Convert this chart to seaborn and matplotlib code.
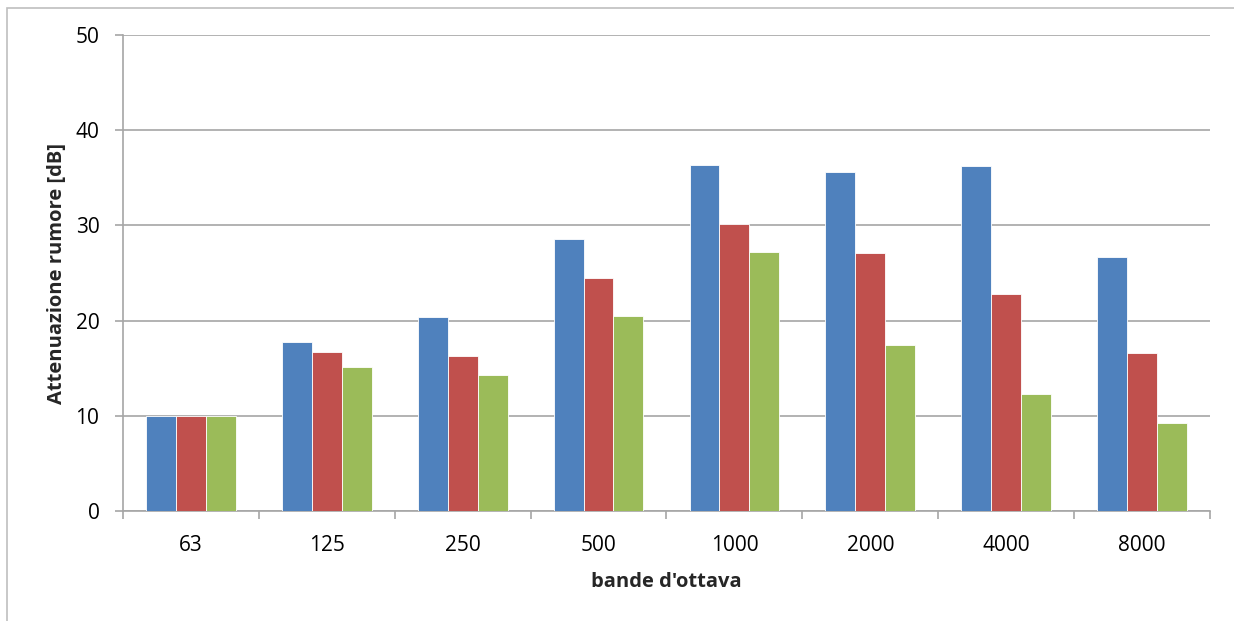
import matplotlib
matplotlib.use("Agg")
import matplotlib.pyplot as plt
from matplotlib.patches import Rectangle
from matplotlib.ticker import FixedLocator
import numpy as np
import pandas as pd
import seaborn as sns

# Octave bands (Hz) and noise attenuation per series (dB)
bands = ["63", "125", "250", "500", "1000", "2000", "4000", "8000"]
serie_1 = [10.0, 17.8, 20.4, 28.6, 36.4, 35.6, 36.2, 26.7]
serie_2 = [10.0, 16.7, 16.3, 24.5, 30.2, 27.1, 22.8, 16.6]
serie_3 = [10.0, 15.1, 14.3, 20.5, 27.2, 17.4, 12.3, 9.3]
series_names = ["Serie 1", "Serie 2", "Serie 3"]
colors = ["#4F81BD", "#C0504D", "#9BBB59"]
y_ticks = [0, 10, 20, 30, 40, 50]

df = pd.DataFrame({
    "banda": bands * 3,
    "attenuazione": serie_1 + serie_2 + serie_3,
    "serie": [series_names[0]] * 8 + [series_names[1]] * 8 + [series_names[2]] * 8,
})

sns.set_theme(style="white")
plt.rcParams["font.family"] = ["Open Sans", "DejaVu Sans"]

fig = plt.figure(figsize=(12.34, 6.21), dpi=100)
ax = fig.add_axes([0.0997, 0.177, 0.8808, 0.7666])

sns.barplot(data=df, x="banda", y="attenuazione", hue="serie", order=bands,
            hue_order=series_names, palette=colors, width=0.66, ax=ax,
            edgecolor="white", linewidth=0.6, saturation=1, legend=False,
            errorbar=None, zorder=3)

ax.set_ylim(0, 50)
ax.set_xlim(-0.5, len(bands) - 0.5)
ax.set_yticks(y_ticks)
ax.yaxis.grid(True, color="#A6A6A6", linewidth=1.2, zorder=0)
ax.set_axisbelow(True)

grey = "#A6A6A6"
for side in ["top", "right"]:
    ax.spines[side].set_visible(False)
for side in ["left", "bottom"]:
    ax.spines[side].set_color(grey)
    ax.spines[side].set_linewidth(1.2)

# Category separators as outward ticks on the x axis
ax.xaxis.set_minor_locator(FixedLocator(np.arange(-0.5, len(bands), 1.0)))
ax.tick_params(axis="x", which="major", length=0, pad=17, labelsize=15, colors="black")
ax.tick_params(axis="x", which="minor", length=6, width=1.2, color=grey, direction="out", bottom=True)
ax.tick_params(axis="y", which="major", length=6, width=1.2, color=grey, direction="out",
               left=True, pad=11, labelsize=15, labelcolor="black")

ax.set_xlabel("bande d'ottava", fontsize=14.5, fontweight="bold", labelpad=12)
ax.set_ylabel("Attenuazione rumore [dB]", fontsize=14.5, fontweight="bold", labelpad=6)

# Chart frame (only top and left edges fall inside the image)
fig.patches.append(Rectangle((7 / 1234, -0.05), 1.1, 1.05 - 7.5 / 621, transform=fig.transFigure,
                             fill=False, edgecolor="#BFBFBF", linewidth=1.2))

fig.savefig("out.png", dpi=100, facecolor="white")
